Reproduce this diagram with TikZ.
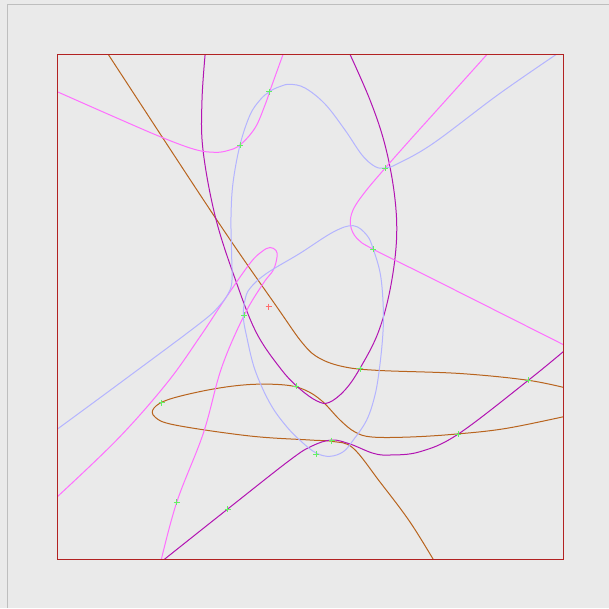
\documentclass[tikz,border=0pt]{standalone}
\definecolor{bgfill}{RGB}{234,234,234}
\definecolor{edgegray}{RGB}{190,190,190}
\definecolor{framered}{RGB}{178,34,34}
\definecolor{curvebrown}{RGB}{184,100,30}
\definecolor{curvepurple}{RGB}{178,20,178}
\definecolor{curvepink}{RGB}{255,110,255}
\definecolor{curveblue}{RGB}{180,180,255}
\definecolor{hitgreen}{RGB}{100,240,100}
\definecolor{hitred}{RGB}{255,110,110}
\tikzset{
  boxframe/.style={line width=1.2pt, color=framered},
  browncurve/.style={line width=1pt, color=curvebrown},
  purplecurve/.style={line width=1pt, color=curvepurple},
  pinkcurve/.style={line width=1pt, color=curvepink},
  bluecurve/.style={line width=1pt, color=curveblue},
  hitcross/.style={line width=0.9pt, color=hitgreen},
  centrecross/.style={line width=0.9pt, color=hitred}
}
\newcommand{\crossmark}[2]{\draw[#1] (#2) +(-3,0) -- +(3,0) (#2) +(0,-3) -- +(0,3);}

\begin{document}
\begin{tikzpicture}[x=1pt,y=-1pt]
    \useasboundingbox (0,0) rectangle (609,608);
    \fill[bgfill] (0,0) rectangle (609,608);
    \draw[edgegray, line width=1.2pt] (7.5,608) -- (7.5,4.5) -- (609,4.5);

    \begin{scope}
    \clip (57.5,54.8) rectangle (563.1,559.6);

    % brown curve
    \draw[browncurve] plot[smooth, tension=0.6] coordinates {(105.5,50) (108.5,54.8)
      (215.7,218.3) (276.7,306.7) (303,343.7) (320,358.5) (345,367) (380,370.5)
      (460,373.5) (528.3,380.3) (570,389)};
    \draw[browncurve] plot[smooth, tension=0.6] coordinates {(570,415.3) (506.7,428.3)
      (456.7,434) (410,437) (372,437) (355,432) (340,420) (322,401) (305,390) (285,385)
      (250,384.5) (211.7,389.3) (170,399) (154,408) (155,417) (175,425) (250,436)
      (310,440) (333,441.5) (353,448) (380,482) (410,522) (436,564)};

    % purple curve
    \draw[purplecurve] plot[smooth, tension=0.6] coordinates {(205.5,50) (202,100)
      (203,150) (215.7,218.3) (236.7,283.3) (256.7,333.3) (281.7,370) (300,389)
      (317,401) (329,402.5) (345,390) (360,368.3) (378,333) (390,290) (396.5,240)
      (394.5,195) (385,145) (370,100) (348,50)};
    \draw[purplecurve] plot[smooth, tension=0.6] coordinates {(158.5,564) (227.7,509)
      (290,460) (312,446) (331.7,440) (350,444) (373.3,453.3) (390,455) (420,451.7)
      (458.3,434) (528.3,380.3) (570,346)};

    % pink curve
    \draw[pinkcurve] plot[smooth, tension=0.6] coordinates {(50,88.5) (110,115)
      (161.7,137.3) (195,149.5) (215,152.3) (228,150.5) (240,145) (255,128) (265,105)
      (272,85) (285,49)};
    \draw[pinkcurve] plot[smooth, tension=0.6] coordinates {(491,50) (440,106.7)
      (410,140) (385,168.3) (365,192) (353,210) (350.5,225) (357,238.5) (373.3,249.3)
      (430,277.5) (563.1,344.5) (570,348)};
    \draw[pinkcurve] plot[smooth, tension=0.6] coordinates {(50,503.5) (116.7,440)
      (166.7,383.3) (200,336.7) (225,299) (250,263.3) (262,251.5) (270,247.5)
      (276,250.5) (277,257) (273.3,270) (263.3,283.3) (244.3,315) (221.5,368)
      (203.3,433.3) (176.7,502.3) (160,565)};

    % blue curve
    \draw[bluecurve] plot[smooth, tension=0.6] coordinates {(50,434.5) (120,383)
      (200,323.3) (220,305) (229,292) (232,280) (231.5,250) (231,216.7) (233,183)
      (240,145) (250,115) (260,100) (269.3,91.7) (280,86.5) (290,84.3) (305,88)
      (325,104) (345,130) (362,155) (375,166.5) (385,168) (397,164) (433.3,143.3)
      (500,93.3) (565,48.5)};
    \draw[bluecurve] plot[smooth cycle, tension=0.6] coordinates {(353.3,225.7)
      (366.7,235) (373.3,249.3) (380.5,275) (383.3,308.3) (382.8,335) (379.5,368)
      (375,395) (366.7,420) (353.3,440) (343.3,451.7) (330,456.3) (316.7,453.3)
      (303.3,443.3) (286.7,426.7) (270,403.3) (255,370) (246.7,336.7) (243.3,316.7)
      (245,300) (250,288.3) (266.7,273.3) (300,253.3) (333.3,232)};
    \end{scope}

    \draw[boxframe] (57.5,54.8) rectangle (563.1,559.6);

    % intersection marks
    \foreach \hx/\hy in {269.3/91.7, 240/145, 385/168.3, 373.3/249.3, 244.3/315,
      296/386.4, 360/368.7, 161.7/402.7, 528.3/380.3, 458.3/434, 331.7/440.7,
      316/454, 176.7/502.3, 227.7/509}
      {\crossmark{hitcross}{\hx,\hy}}
    \crossmark{centrecross}{268.5,306.7}
\end{tikzpicture}
\end{document}
